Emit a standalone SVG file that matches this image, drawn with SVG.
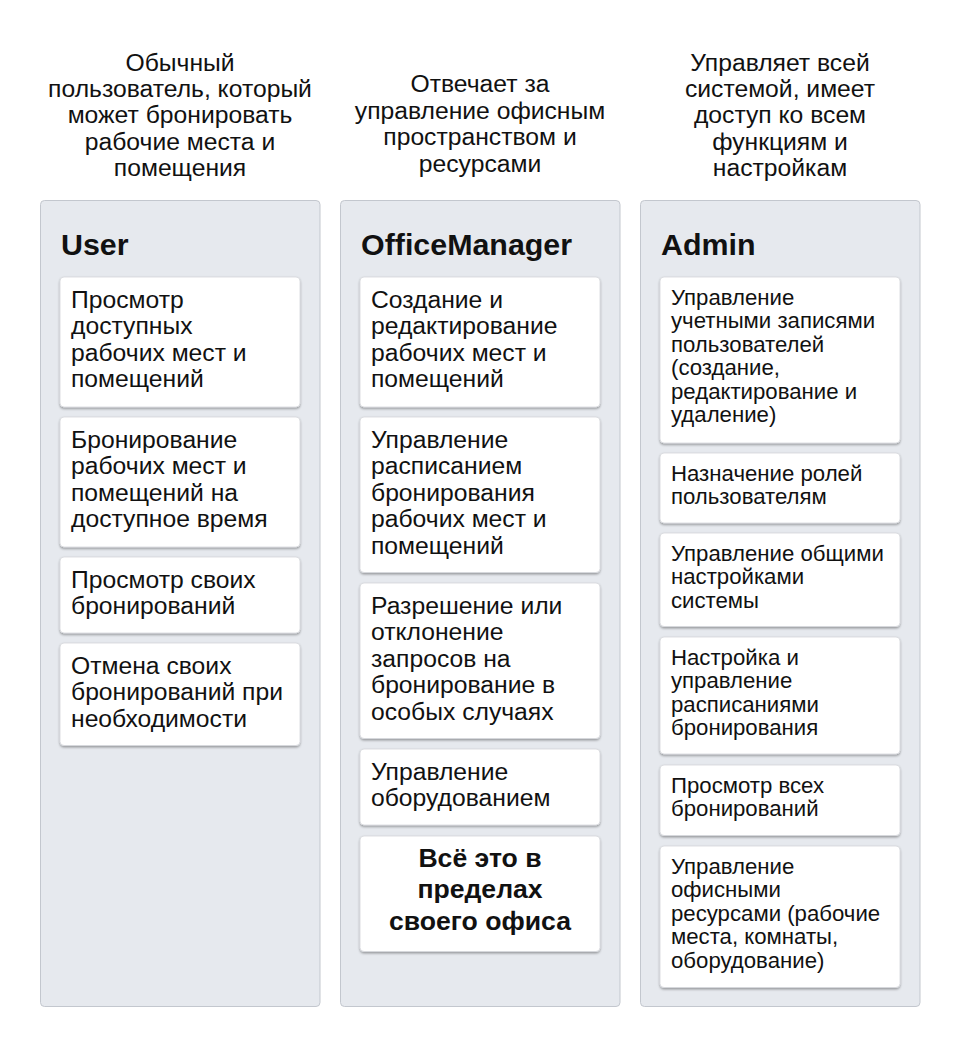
<svg xmlns="http://www.w3.org/2000/svg" width="960" height="1047" viewBox="0 0 960 1047">
<defs>
<filter id="sh" x="-10%" y="-10%" width="120%" height="130%">
<feDropShadow dx="0" dy="1.5" stdDeviation="1.2" flood-color="#000" flood-opacity="0.35"/>
</filter>
<style>
.bg{fill:#ffffff}
.panel{fill:#e6e9ee;stroke:#c3c7ce;stroke-width:1}
.card{fill:#ffffff;stroke:#d4d6da;stroke-width:0.8;filter:url(#sh)}
.hdr{font-family:"Liberation Sans",Arial,sans-serif;font-size:24.7px;fill:#111;text-anchor:middle}
.ttl{font-family:"Liberation Sans",Arial,sans-serif;font-size:30.4px;font-weight:bold;fill:#111}
.t1{font-family:"Liberation Sans",Arial,sans-serif;font-size:24.7px;fill:#111}
.t3{font-family:"Liberation Sans",Arial,sans-serif;font-size:22.2px;fill:#111}
.tb{font-family:"Liberation Sans",Arial,sans-serif;font-size:26.6px;font-weight:bold;fill:#111;text-anchor:middle}
</style>
</defs>
<rect class="bg" x="0" y="0" width="960" height="1047"/>

<g id="user">
<text class="hdr" x="180"><tspan x="180" y="70.5">Обычный</tspan><tspan x="180" y="97">пользователь, который</tspan><tspan x="180" y="123">может бронировать</tspan><tspan x="180" y="149.5">рабочие места и</tspan><tspan x="180" y="175.5">помещения</tspan></text>
<rect class="panel" x="40.5" y="200.5" width="279.5" height="806" rx="4"/>
<text class="ttl" x="61" y="255">User</text>
<g id="user-1"><rect class="card" x="60" y="277" width="240" height="130" rx="4"/>
<text class="t1"><tspan x="71" y="307.5">Просмотр</tspan><tspan x="71" y="334">доступных</tspan><tspan x="71" y="360.5">рабочих мест и</tspan><tspan x="71" y="387">помещений</tspan></text></g>
<g id="user-2"><rect class="card" x="60" y="417" width="240" height="130" rx="4"/>
<text class="t1"><tspan x="71" y="447.5">Бронирование</tspan><tspan x="71" y="474">рабочих мест и</tspan><tspan x="71" y="500.5">помещений на</tspan><tspan x="71" y="527">доступное время</tspan></text></g>
<g id="user-3"><rect class="card" x="60" y="557" width="240" height="76" rx="4"/>
<text class="t1"><tspan x="71" y="587.5">Просмотр своих</tspan><tspan x="71" y="614">бронирований</tspan></text></g>
<g id="user-4"><rect class="card" x="60" y="643" width="240" height="102.5" rx="4"/>
<text class="t1"><tspan x="71" y="673.5">Отмена своих</tspan><tspan x="71" y="700">бронирований при</tspan><tspan x="71" y="726.5">необходимости</tspan></text></g>
</g>

<g id="officemanager">
<text class="hdr" x="480"><tspan x="480" y="92">Отвечает за</tspan><tspan x="480" y="118.5">управление офисным</tspan><tspan x="480" y="145">пространством и</tspan><tspan x="480" y="171.5">ресурсами</tspan></text>
<rect class="panel" x="340.5" y="200.5" width="279.5" height="806" rx="4"/>
<text class="ttl" x="361" y="255">OfficeManager</text>
<g id="om-1"><rect class="card" x="360" y="277" width="240" height="130" rx="4"/>
<text class="t1"><tspan x="371" y="307.5">Создание и</tspan><tspan x="371" y="334">редактирование</tspan><tspan x="371" y="360.5">рабочих мест и</tspan><tspan x="371" y="387">помещений</tspan></text></g>
<g id="om-2"><rect class="card" x="360" y="417" width="240" height="155.5" rx="4"/>
<text class="t1"><tspan x="371" y="447.5">Управление</tspan><tspan x="371" y="474">расписанием</tspan><tspan x="371" y="500.5">бронирования</tspan><tspan x="371" y="527">рабочих мест и</tspan><tspan x="371" y="553.5">помещений</tspan></text></g>
<g id="om-3"><rect class="card" x="360" y="583" width="240" height="155.5" rx="4"/>
<text class="t1"><tspan x="371" y="613.5">Разрешение или</tspan><tspan x="371" y="640">отклонение</tspan><tspan x="371" y="666.5">запросов на</tspan><tspan x="371" y="693">бронирование в</tspan><tspan x="371" y="719.5">особых случаях</tspan></text></g>
<g id="om-4"><rect class="card" x="360" y="749" width="240" height="76" rx="4"/>
<text class="t1"><tspan x="371" y="779.5">Управление</tspan><tspan x="371" y="806">оборудованием</tspan></text></g>
<g id="om-5"><rect class="card" x="360" y="836" width="240" height="115.5" rx="4"/>
<text class="tb"><tspan x="480" y="866.5">Всё это в</tspan><tspan x="480" y="898">пределах</tspan><tspan x="480" y="929.5">своего офиса</tspan></text></g>
</g>

<g id="admin">
<text class="hdr" x="780"><tspan x="780" y="70.5">Управляет всей</tspan><tspan x="780" y="97">системой, имеет</tspan><tspan x="780" y="123">доступ ко всем</tspan><tspan x="780" y="149.5">функциям и</tspan><tspan x="780" y="175.5">настройкам</tspan></text>
<rect class="panel" x="640.5" y="200.5" width="279.5" height="806" rx="4"/>
<text class="ttl" x="661" y="255">Admin</text>
<g id="admin-1"><rect class="card" x="660" y="277" width="240" height="166" rx="4"/>
<text class="t3"><tspan x="671" y="304.5">Управление</tspan><tspan x="671" y="328">учетными записями</tspan><tspan x="671" y="351.5">пользователей</tspan><tspan x="671" y="375">(создание,</tspan><tspan x="671" y="398.5">редактирование и</tspan><tspan x="671" y="422">удаление)</tspan></text></g>
<g id="admin-2"><rect class="card" x="660" y="453" width="240" height="70" rx="4"/>
<text class="t3"><tspan x="671" y="480.5">Назначение ролей</tspan><tspan x="671" y="504">пользователям</tspan></text></g>
<g id="admin-3"><rect class="card" x="660" y="533" width="240" height="93.5" rx="4"/>
<text class="t3"><tspan x="671" y="560.5">Управление общими</tspan><tspan x="671" y="584">настройками</tspan><tspan x="671" y="607.5">системы</tspan></text></g>
<g id="admin-4"><rect class="card" x="660" y="637" width="240" height="117" rx="4"/>
<text class="t3"><tspan x="671" y="664.5">Настройка и</tspan><tspan x="671" y="688">управление</tspan><tspan x="671" y="711.5">расписаниями</tspan><tspan x="671" y="735">бронирования</tspan></text></g>
<g id="admin-5"><rect class="card" x="660" y="765" width="240" height="70.5" rx="4"/>
<text class="t3"><tspan x="671" y="792.5">Просмотр всех</tspan><tspan x="671" y="816">бронирований</tspan></text></g>
<g id="admin-6"><rect class="card" x="660" y="846" width="240" height="141.5" rx="4"/>
<text class="t3"><tspan x="671" y="873.5">Управление</tspan><tspan x="671" y="897">офисными</tspan><tspan x="671" y="920.5">ресурсами (рабочие</tspan><tspan x="671" y="944">места, комнаты,</tspan><tspan x="671" y="967.5">оборудование)</tspan></text></g>
</g>

<g id="connectors"/>
</svg>
